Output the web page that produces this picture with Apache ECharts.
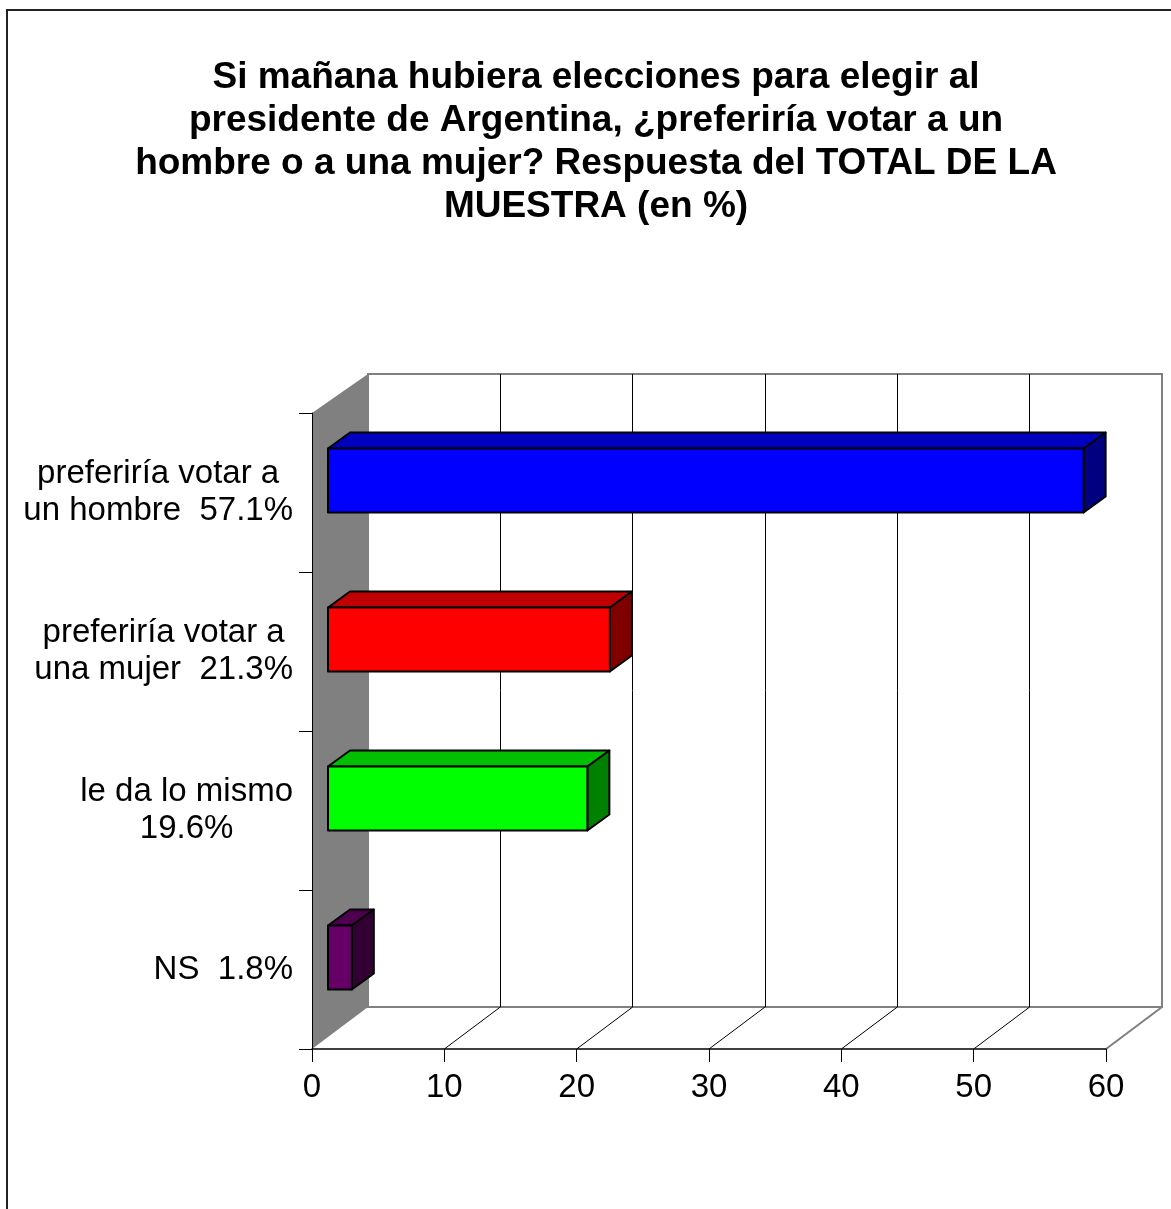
<!DOCTYPE html>
<html><head><meta charset="utf-8">
<script src="https://cdn.jsdelivr.net/npm/echarts@6/dist/echarts.min.js"></script>
<style>html,body{margin:0;padding:0;background:#fff}#c{width:1171px;height:1209px}</style>
</head><body><div id="c"></div>
<script>
const titleLines = ['Si mañana hubiera elecciones para elegir al', 'presidente de Argentina, ¿preferiría votar a un', 'hombre o a una mujer? Respuesta del TOTAL DE LA', 'MUESTRA (en %)'];
const categories = ['preferiría votar a\nun hombre  57.1%', 'preferiría votar a\nuna mujer  21.3%', 'le da lo mismo\n19.6%', 'NS  1.8%'];
const values = [57.1, 21.3, 19.6, 1.8];
const xTicks = [0, 10, 20, 30, 40, 50, 60];
const frontColors = ['#0000FF', '#FF0000', '#00FF00', '#660066'];
const topColors = ['#0000C0', '#C00000', '#00C000', '#4D004D'];
const sideColors = ['#000080', '#800000', '#008000', '#330033'];

const DX = 56, DY = -42;          // depth of the floor / walls
const BX = 16, BY = -12;          // bar front plane offset
const BDX = 22, BDY = -16;        // bar depth
const BH = 32;                    // half bar height
const FONT = '"Liberation Sans", Arial, sans-serif';

const chart = echarts.init(document.getElementById('c'), null, {renderer: 'canvas'});
chart.setOption({
  backgroundColor: '#fff',
  animation: false,
  graphic: [
    {type: 'rect', z: -10, shape: {x: 7, y: 10, width: 1400, height: 1400}, style: {fill: null, stroke: '#222', lineWidth: 2}},
    {type: 'text', z: 10, style: {text: titleLines.join('\n'), x: 596, y: 56, align: 'center', verticalAlign: 'top',
      fontSize: 37, fontWeight: 'bold', fontFamily: FONT, lineHeight: 43, fill: '#000'}}
  ],
  grid: [
    {left: 312, right: 65, top: 413, bottom: 160, show: false},
    {left: 368, right: 9, top: 374, bottom: 202, show: true, backgroundColor: '#fff', borderColor: '#808080', borderWidth: 2, z: -1}
  ],
  xAxis: [
    {type: 'value', gridIndex: 0, min: 0, max: 60, interval: 10, z: 5,
      axisLine: {show: true, lineStyle: {color: '#000', width: 1.5}},
      axisTick: {show: true, length: 13, lineStyle: {color: '#000'}},
      axisLabel: {margin: 22, fontSize: 33, fontFamily: FONT, color: '#000',
        formatter: function (v) { return xTicks.indexOf(v) >= 0 ? String(v) : ''; }},
      splitLine: {show: false}},
    {type: 'value', gridIndex: 1, min: 0, max: 60, interval: 10,
      axisLine: {show: false}, axisTick: {show: false}, axisLabel: {show: false},
      splitLine: {show: true, showMinLine: false, showMaxLine: false, lineStyle: {color: '#000', width: 1}}}
  ],
  yAxis: [
    {type: 'category', gridIndex: 0, data: categories, inverse: true, z: 5,
      axisLine: {show: true, lineStyle: {color: '#000', width: 1}},
      axisTick: {show: true, length: 13, lineStyle: {color: '#000'}},
      axisLabel: {margin: 19, align: 'right',
        formatter: function (v) { return v.split('\n').map(function (l) { return '{c|' + l + '}'; }).join('\n'); },
        rich: {c: {align: 'center', fontSize: 33, fontFamily: FONT, color: '#000', lineHeight: 37}}},
      splitLine: {show: false}},
    {type: 'value', gridIndex: 1, show: false, min: 0, max: 1}
  ],
  series: [
    {
      type: 'custom', xAxisIndex: 0, yAxisIndex: 0, z: 1, clip: false, silent: true,
      data: xTicks.map(function (v) { return [v, 0]; }),
      renderItem: function (params, api) {
        const cs = params.coordSys;
        const v = api.value(0);
        const x = api.coord([v, 0])[0];
        const yb = cs.y + cs.height;
        const children = [];
        if (params.dataIndex === 0) {
          children.push({type: 'polygon', shape: {points: [[cs.x, cs.y], [cs.x + DX, cs.y - 39], [cs.x + DX, yb + DY], [cs.x, yb]]},
            style: {fill: '#808080', stroke: null}});
        } else {
          const last = params.dataIndex === xTicks.length - 1;
          children.push({type: 'line', shape: {x1: x, y1: yb, x2: x + DX, y2: yb + DY},
            style: {stroke: last ? '#808080' : '#000', lineWidth: last ? 2 : 1}});
          if (last) {
            children.push({type: 'line', shape: {x1: x + DX, y1: yb + DY, x2: x + DX, y2: cs.y - 39},
              style: {stroke: '#808080', lineWidth: 2}});
          }
        }
        return {type: 'group', children: children};
      }
    },
    {
      type: 'custom', xAxisIndex: 0, yAxisIndex: 0, z: 3, clip: false, silent: true,
      data: values.map(function (v, i) { return [v, i]; }),
      renderItem: function (params, api) {
        const i = params.dataIndex;
        const p0 = api.coord([0, api.value(1)]);
        const p1 = api.coord([api.value(0), api.value(1)]);
        const x0 = p0[0] + BX, x1 = p1[0] + BX;
        const yc = p0[1] + BY;
        const y0 = yc - BH, y1 = yc + BH;
        const st = {stroke: '#000', lineWidth: 2, lineJoin: 'round'};
        return {type: 'group', children: [
          {type: 'polygon', shape: {points: [[x0, y0], [x0 + BDX, y0 + BDY], [x1 + BDX, y0 + BDY], [x1, y0]]},
            style: Object.assign({fill: topColors[i]}, st)},
          {type: 'polygon', shape: {points: [[x1, y0], [x1 + BDX, y0 + BDY], [x1 + BDX, y1 + BDY], [x1, y1]]},
            style: Object.assign({fill: sideColors[i]}, st)},
          {type: 'polygon', shape: {points: [[x0, y0], [x1, y0], [x1, y1], [x0, y1]]},
            style: Object.assign({fill: frontColors[i]}, st)}
        ]};
      }
    }
  ]
});
</script></body></html>
